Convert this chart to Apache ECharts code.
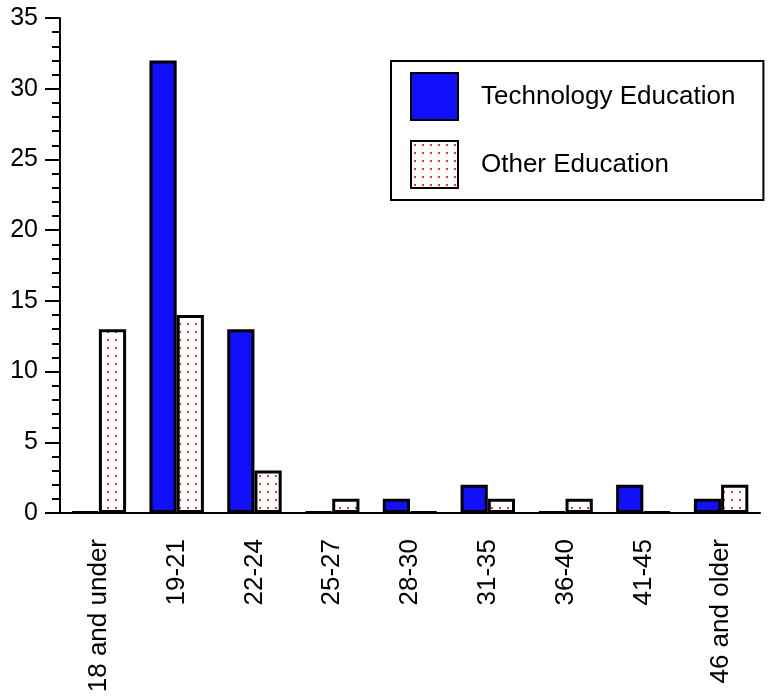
<!DOCTYPE html>
<html lang="en">
<head>
    <meta charset="UTF-8">
    <title>Age groups</title>
    <script src="https://cdn.jsdelivr.net/npm/echarts@6/dist/echarts.min.js"></script>
    <style>
        html, body { margin: 0; padding: 0; background: #fff; }
    </style>
</head>
<body>
<div id="main" style="width: 769px; height: 700px;"></div>
<script>
    var ageGroups = ['18 and under', '19-21', '22-24', '25-27', '28-30', '31-35', '36-40', '41-45', '46 and older'];
    var techEducation = [0, 32, 13, 0, 1, 2, 0, 2, 1];
    var otherEducation = [13, 14, 3, 1, 0, 1, 1, 0, 2];
    var seriesNames = ['Technology Education', 'Other Education'];

    // red dotted fill for the second series
    function dotPattern() {
        var c = document.createElement('canvas');
        c.width = 8;
        c.height = 8;
        var ctx = c.getContext('2d');
        ctx.fillStyle = '#fff';
        ctx.fillRect(0, 0, 8, 8);
        ctx.fillStyle = '#ff3030';
        ctx.fillRect(3, 3, 2, 2);
        return c;
    }

    var font = '"Liberation Sans", Arial, sans-serif';
    var myCharts = echarts.init(document.getElementById('main'));
    var option = {
        animation: false,
        grid: {
            left: 60,
            right: 9,
            top: 18,
            bottom: 187
        },
        legend: {
            data: seriesNames,
            orient: 'vertical',
            left: 391,
            top: 61,
            itemWidth: 47,
            itemHeight: 47,
            itemGap: 19,
            padding: [11, 28, 11, 19],
            borderColor: '#000',
            borderWidth: 2,
            icon: 'rect',
            textStyle: {
                fontFamily: font,
                fontSize: 26,
                color: '#000',
                padding: [0, 0, 8, 18]
            }
        },
        xAxis: {
            type: 'category',
            data: ageGroups,
            axisLine: {
                lineStyle: { color: '#000', width: 2 }
            },
            axisTick: {
                length: 14,
                lineStyle: { color: '#000', width: 2 }
            },
            axisLabel: {
                rotate: 90,
                margin: 26,
                interval: 0,
                color: '#000',
                fontFamily: font,
                fontSize: 26
            }
        },
        yAxis: {
            type: 'value',
            min: 0,
            max: 35,
            interval: 5,
            splitLine: { show: false },
            axisLine: {
                show: true,
                lineStyle: { color: '#000', width: 2 }
            },
            axisTick: {
                show: true,
                length: 15,
                lineStyle: { color: '#000', width: 2 }
            },
            minorTick: {
                show: true,
                splitNumber: 5,
                length: 8,
                lineStyle: { color: '#000', width: 2 }
            },
            axisLabel: {
                margin: 22,
                color: '#000',
                fontFamily: font,
                fontSize: 25
            }
        },
        series: [
            {
                name: seriesNames[0],
                type: 'bar',
                data: techEducation,
                barWidth: '35%',
                barGap: '0%',
                barMinHeight: 1,
                itemStyle: {
                    color: '#1010ff',
                    borderColor: '#000',
                    borderWidth: 3
                }
            },
            {
                name: seriesNames[1],
                type: 'bar',
                data: otherEducation,
                barWidth: '35%',
                barGap: '0%',
                barMinHeight: 1,
                itemStyle: {
                    color: { image: dotPattern(), repeat: 'repeat' },
                    borderColor: '#000',
                    borderWidth: 3
                }
            }
        ]
    };
    myCharts.setOption(option);
</script>
</body>
</html>
